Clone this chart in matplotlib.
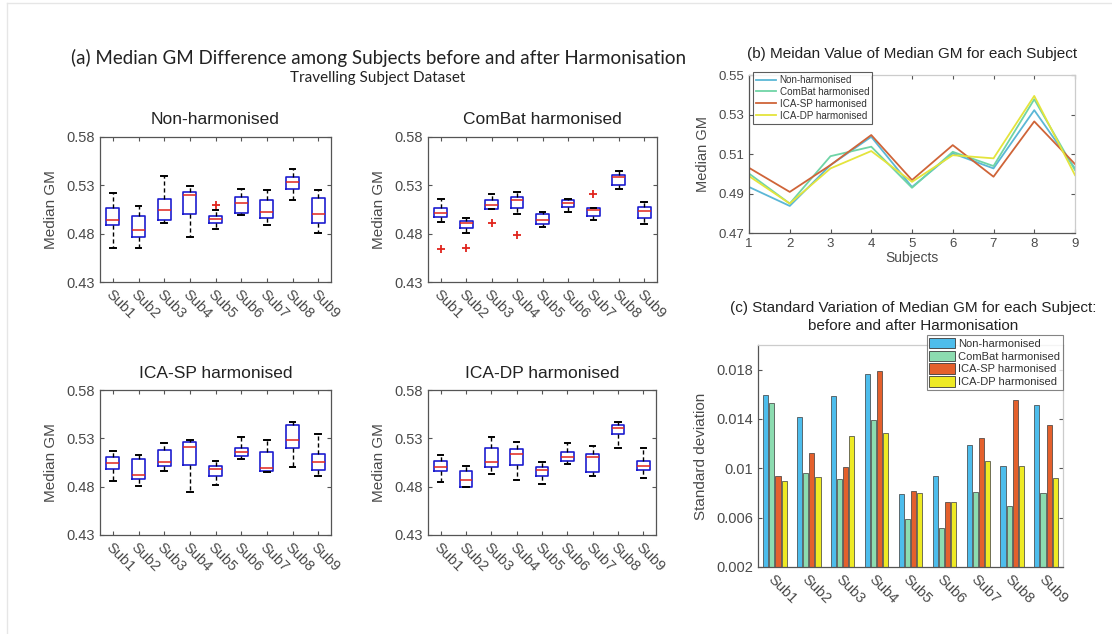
import matplotlib
matplotlib.use("Agg")
import matplotlib.pyplot as plt
from matplotlib.patches import Patch
from matplotlib.lines import Line2D

plt.rcParams['font.family'] = ['Liberation Sans', 'DejaVu Sans']

subjects = ["Sub1", "Sub2", "Sub3", "Sub4", "Sub5", "Sub6", "Sub7", "Sub8", "Sub9"]
methods = ["Non-harmonised", "ComBat harmonised", "ICA-SP harmonised", "ICA-DP harmonised"]

# box plot stats: whisker low, q1, median, q3, whisker high
non_lo = [0.4655, 0.4655, 0.4914, 0.4769, 0.4845, 0.4994, 0.4890, 0.5150, 0.4804]
non_q1 = [0.4890, 0.4769, 0.4942, 0.5001, 0.4914, 0.5011, 0.4966, 0.5260, 0.4914]
non_med = [0.4942, 0.4838, 0.5046, 0.5195, 0.4952, 0.5115, 0.5025, 0.5336, 0.5004]
non_q3 = [0.5063, 0.4987, 0.5156, 0.5236, 0.4987, 0.5177, 0.5150, 0.5385, 0.5167]
non_hi = [0.5219, 0.5090, 0.5392, 0.5295, 0.5046, 0.5267, 0.5253, 0.5468, 0.5250]
non_out = [[], [], [], [], [0.5101], [], [], [], []]

cb_lo = [0.4925, 0.4810, 0.5053, 0.5004, 0.4873, 0.5022, 0.4942, 0.5260, 0.4897]
cb_q1 = [0.4977, 0.4862, 0.5053, 0.5063, 0.4897, 0.5073, 0.4983, 0.5305, 0.4959]
cb_med = [0.5018, 0.4907, 0.5098, 0.5150, 0.4942, 0.5115, 0.5046, 0.5385, 0.5035]
cb_q3 = [0.5070, 0.4932, 0.5150, 0.5184, 0.5004, 0.5150, 0.5063, 0.5409, 0.5080]
cb_hi = [0.5160, 0.4959, 0.5215, 0.5236, 0.5022, 0.5163, 0.5067, 0.5451, 0.5132]
cb_out = [[0.4637], [0.4655], [0.4911], [0.4786], [], [], [0.5212], [], []]

sp_lo = [0.4860, 0.4809, 0.4963, 0.4744, 0.4819, 0.5090, 0.4956, 0.5008, 0.4915]
sp_q1 = [0.4984, 0.4881, 0.5011, 0.5025, 0.4915, 0.5117, 0.4967, 0.5203, 0.4970]
sp_med = [0.5045, 0.4922, 0.5059, 0.5213, 0.4980, 0.5155, 0.4991, 0.5282, 0.5059]
sp_q3 = [0.5104, 0.5087, 0.5176, 0.5258, 0.5018, 0.5203, 0.5162, 0.5443, 0.5141]
sp_hi = [0.5169, 0.5128, 0.5251, 0.5286, 0.5069, 0.5309, 0.5282, 0.5471, 0.5347]
sp_out = [[], [], [], [], [], [], [], [], []]

dp_lo = [0.4846, 0.4792, 0.4936, 0.4870, 0.4826, 0.5039, 0.4915, 0.5196, 0.4888]
dp_q1 = [0.4963, 0.4795, 0.5004, 0.5025, 0.4915, 0.5066, 0.4956, 0.5340, 0.4973]
dp_med = [0.5008, 0.4870, 0.5052, 0.5135, 0.4973, 0.5111, 0.5104, 0.5409, 0.5015]
dp_q3 = [0.5066, 0.4963, 0.5196, 0.5193, 0.5008, 0.5155, 0.5135, 0.5436, 0.5066]
dp_hi = [0.5128, 0.5018, 0.5316, 0.5258, 0.5059, 0.5248, 0.5224, 0.5471, 0.5196]
dp_out = [[], [], [], [], [], [], [], [], []]

# (b) median of median GM per subject
subject_ids = [1, 2, 3, 4, 5, 6, 7, 8, 9]
med_non = [0.4933, 0.4837, 0.5044, 0.5187, 0.4933, 0.5103, 0.5027, 0.5322, 0.5027]
med_cb = [0.5001, 0.4849, 0.5089, 0.5137, 0.4929, 0.5111, 0.5039, 0.5377, 0.5018]
med_sp = [0.5030, 0.4908, 0.5044, 0.5196, 0.4968, 0.5145, 0.4985, 0.5265, 0.5049]
med_dp = [0.4988, 0.4849, 0.5027, 0.5115, 0.4959, 0.5094, 0.5078, 0.5394, 0.4993]

# (c) standard deviation per subject
sd_non = [0.01591, 0.01420, 0.01583, 0.01767, 0.00788, 0.00940, 0.01187, 0.01022, 0.01510]
sd_cb = [0.01526, 0.00959, 0.00910, 0.01388, 0.00593, 0.00517, 0.00807, 0.00691, 0.00802]
sd_sp = [0.00940, 0.01127, 0.01014, 0.01789, 0.00818, 0.00729, 0.01244, 0.01556, 0.01350]
sd_dp = [0.00897, 0.00927, 0.01263, 0.01290, 0.00797, 0.00729, 0.01057, 0.01019, 0.00919]

line_colors = ['#5bb7d6', '#6fd4a6', '#cf6438', '#e4e43c']
bar_colors = ['#4dbdec', '#8cdcb0', '#e4602c', '#eeea24']
tick_grey = '#4a4a4a'

W, H = 1112, 634
fig = plt.figure(figsize=(W / 100, H / 100), dpi=100)


def px_axes(left, top, right, bottom):
    return fig.add_axes([left / W, 1 - bottom / H, (right - left) / W, (bottom - top) / H])


def style_axes(ax):
    for s in ax.spines.values():
        s.set_color('#555555')
        s.set_linewidth(0.9)
    ax.tick_params(direction='in', top=True, right=True, colors='#555555',
                   labelcolor=tick_grey, length=3, width=0.8)


def box_panel(ax, title, lo, q1, med, q3, hi, out):
    stats = []
    for i in range(len(subjects)):
        stats.append(dict(whislo=lo[i], q1=q1[i], med=med[i], q3=q3[i], whishi=hi[i],
                          fliers=out[i]))
    ax.bxp(stats, positions=subject_ids, widths=0.5, showfliers=True,
           boxprops=dict(color='#1c1ccf', linewidth=1.2),
           medianprops=dict(color='#e0241c', linewidth=1.1),
           whiskerprops=dict(color='black', linewidth=1.0, linestyle=(0, (3, 2))),
           capprops=dict(color='black', linewidth=1.4),
           flierprops=dict(marker='+', markeredgecolor='#e0241c', markersize=6,
                           markeredgewidth=1.3, linestyle='none'),
           capwidths=0.22)
    ax.set_xlim(0.5, 9.5)
    ax.set_ylim(0.43, 0.58)
    ax.set_yticks([0.43, 0.48, 0.53, 0.58])
    ax.set_yticklabels(['0.43', '0.48', '0.53', '0.58'], fontsize=10.5)
    ax.set_xticks(subject_ids)
    ax.set_xticklabels(subjects, rotation=-45, ha='left', va='top',
                       rotation_mode='anchor', fontsize=10.5)
    ax.set_ylabel('Median GM', fontsize=11, color=tick_grey, labelpad=6)
    ax.set_title(title, fontsize=12.5, color='#222222', pad=9)
    style_axes(ax)


ax1 = px_axes(100, 137, 331, 282)
box_panel(ax1, 'Non-harmonised', non_lo, non_q1, non_med, non_q3, non_hi, non_out)
ax2 = px_axes(428, 137, 657, 282)
box_panel(ax2, 'ComBat harmonised', cb_lo, cb_q1, cb_med, cb_q3, cb_hi, cb_out)
ax3 = px_axes(100, 390, 331, 535)
box_panel(ax3, 'ICA-SP harmonised', sp_lo, sp_q1, sp_med, sp_q3, sp_hi, sp_out)
ax4 = px_axes(428, 390, 656, 535)
box_panel(ax4, 'ICA-DP harmonised', dp_lo, dp_q1, dp_med, dp_q3, dp_hi, dp_out)

fig.text(379 / W, 1 - 58 / H,
         '(a) Median GM Difference among Subjects before and after Harmonisation',
         ha='center', va='center', fontsize=13.5, family=['Lato', 'DejaVu Sans'], color='#222222')
fig.text(378 / W, 1 - 78 / H, 'Travelling Subject Dataset',
         ha='center', va='center', fontsize=11, family=['Lato', 'DejaVu Sans'], color='#222222')

# (b)
axb = px_axes(749, 75, 1075, 233)
for vals, c, name in zip([med_non, med_cb, med_sp, med_dp], line_colors, methods):
    axb.plot(subject_ids, vals, color=c, linewidth=1.3, label=name)
axb.set_xlim(1, 9)
axb.set_ylim(0.47, 0.55)
axb.set_yticks([0.47, 0.49, 0.51, 0.53, 0.55])
axb.set_yticklabels(['0.47', '0.49', '0.51', '0.53', '0.55'], fontsize=9.5)
axb.set_xticks(subject_ids)
axb.set_xticklabels([str(s) for s in subject_ids], fontsize=9.5)
axb.set_xlabel('Subjects', fontsize=10, color=tick_grey, labelpad=1)
axb.set_ylabel('Median GM', fontsize=10.5, color=tick_grey, labelpad=6)
axb.set_title('(b) Meidan Value of Median GM for each Subject', fontsize=11,
              color='#222222', pad=12)
style_axes(axb)
for s in ['top', 'right']:
    axb.spines[s].set_color('#cccccc')
leg = axb.legend(loc='upper left', fontsize=7.1, frameon=True, fancybox=False,
                 handlelength=2.0, handletextpad=0.4, borderpad=0.3, labelspacing=0.2,
                 bbox_to_anchor=(753 / W, 1 - 72 / H), bbox_transform=fig.transFigure,
                 borderaxespad=0.0)
leg.get_frame().set_edgecolor('#333333')
leg.get_frame().set_linewidth(0.8)
for t in leg.get_texts():
    t.set_color('#333333')

# (c)
axc = px_axes(758, 345, 1063, 567)
for i, (vals, c) in enumerate(zip([sd_non, sd_cb, sd_sp, sd_dp], bar_colors)):
    xs = [s + (i - 1.5) * 0.18 for s in subject_ids]
    axc.bar(xs, vals, width=0.15, color=c, edgecolor='#3a3a3a', linewidth=0.5)
axc.set_xlim(0.5, 9.5)
axc.set_ylim(0.002, 0.02)
axc.set_yticks([0.002, 0.006, 0.01, 0.014, 0.018])
axc.set_yticklabels(['0.002', '0.006', '0.01', '0.014', '0.018'], fontsize=10.5)
axc.set_xticks(subject_ids)
axc.set_xticklabels(subjects, rotation=-45, ha='left', va='top',
                    rotation_mode='anchor', fontsize=10.5)
axc.set_ylabel('Standard deviation', fontsize=11, color=tick_grey, labelpad=6)
axc.set_title('(c) Standard Variation of Median GM for each Subject:\nbefore and after Harmonisation',
              fontsize=11, color='#222222', pad=11, linespacing=1.35, x=0.51)
style_axes(axc)
axc.tick_params(axis='x', length=0)
for s in ['top', 'right']:
    axc.spines[s].set_color('#cccccc')
handles = [Patch(facecolor=c, edgecolor='#3a3a3a', linewidth=0.6) for c in bar_colors]
legc = fig.legend(handles, methods, loc='upper right', fontsize=8, frameon=True,
                  fancybox=False, handlelength=2.3, handleheight=1.1, handletextpad=0.3,
                  borderpad=0.25, labelspacing=0.15,
                  bbox_to_anchor=(1063 / W, 1 - 335 / H), borderaxespad=0.0)
legc.get_frame().set_edgecolor('#666666')
legc.get_frame().set_linewidth(0.8)
for t in legc.get_texts():
    t.set_color('#333333')

# light frame lines around the figure image
fig.add_artist(Line2D([7 / W, 7 / W], [0, 1 - 3 / H], color='#e6e6e6', linewidth=1.0))
fig.add_artist(Line2D([7 / W, 1], [1 - 3 / H, 1 - 3 / H], color='#e6e6e6', linewidth=1.0))

fig.savefig('out.png', dpi=100, facecolor='white')
